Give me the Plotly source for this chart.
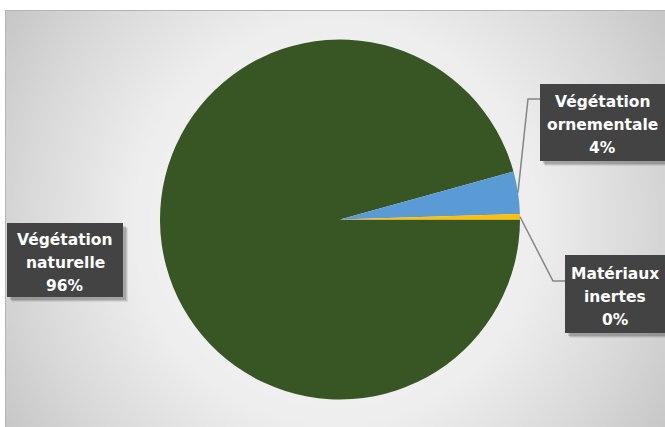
import math
import numpy as np
import plotly.graph_objects as go

# Répartition des surfaces (%)
categories = ["Végétation naturelle", "Végétation ornementale", "Matériaux inertes"]
values = [95.71, 3.80, 0.49]
colors = ["#375623", "#5B9BD5", "#FFC000"]

W, H = 665, 427
CX, CY, R = 340.0, 219.5, 180.0   # pie centre and radius in pixels
ROTATION = 90                     # first slice starts at 3 o'clock, clockwise

fig = go.Figure()

# soft radial background of the chart area
xe = np.linspace(5, W, 67)
ye = np.linspace(10, H, 43)
xc = (xe[:-1] + xe[1:]) / 2
yc = (ye[:-1] + ye[1:]) / 2
gx, gy = np.meshgrid(xc, yc)
dist = np.hypot(gx - 335, gy - 222)
fig.add_trace(go.Heatmap(
    x=xe, y=ye, z=dist, zmin=0, zmax=400, zsmooth="best",
    colorscale=[[0, "#f5f5f5"], [0.5, "#eeeeee"], [0.78, "#d8d8d8"], [1, "#c4c4c4"]],
    showscale=False, hoverinfo="skip",
))

fig.add_trace(go.Pie(
    labels=categories, values=values, sort=False,
    direction="clockwise", rotation=ROTATION,
    marker=dict(colors=colors, line=dict(width=0)),
    textinfo="none", showlegend=False,
    domain=dict(x=[(CX - R) / W, (CX + R) / W],
                y=[(H - CY - R) / H, (H - CY + R) / H]),
))

total = sum(values)
fracs = [v / total for v in values]
pcts = [round(f * 100) for f in fracs]


def edge_point(i):
    """Point on the rim at the middle of slice i."""
    start = sum(fracs[:i])
    theta = math.radians(ROTATION + 360 * (start + fracs[i] / 2))
    return CX + R * math.sin(theta), CY - R * math.cos(theta)


# label boxes: (x0, x1, y0, y1), leader elbow (or None)
boxes = {
    0: ((7, 123, 223, 297), None),
    1: ((540, 668, 84, 161), ((528, 99), (540, 99))),
    2: ((565, 672, 255, 333), ((553, 281), (565, 281))),
}

shapes = []
annotations = []
for i, ((x0, x1, y0, y1), elbow) in boxes.items():
    if elbow is not None:
        px, py = edge_point(i)
        (ex, ey), (bx, by) = elbow
        shapes.append(dict(type="path", xref="x", yref="y", layer="above",
                           path=f"M{px},{py} L{ex},{ey} L{bx},{by}",
                           line=dict(color="#858585", width=1.5)))
    # drop shadow
    for off, op in ((5, 0.08), (4, 0.10), (3, 0.14)):
        shapes.append(dict(type="rect", xref="x", yref="y", layer="above",
                           x0=x0 + off, x1=x1 + off, y0=y0 + off, y1=y1 + off,
                           fillcolor=f"rgba(0,0,0,{op})", line=dict(width=0)))
    shapes.append(dict(type="rect", xref="x", yref="y", layer="above",
                       x0=x0, x1=x1, y0=y0, y1=y1,
                       fillcolor="#434343", line=dict(width=0)))
    lines = categories[i].split(" ") + [f"{pcts[i]}%"]
    xm = (x0 + min(x1, 665)) / 2 if i != 0 else (x0 + x1) / 2
    ym = (y0 + y1) / 2 + 2.5
    for k, t in enumerate(lines):
        annotations.append(dict(
            x=xm, y=ym + (k - 1) * 23, xref="x", yref="y",
            text=f"<b>{t}</b>", showarrow=False,
            xanchor="center", yanchor="middle",
            font=dict(family="DejaVu Sans", size=15.5, color="white"),
        ))

# chart-area border
shapes.append(dict(type="rect", xref="x", yref="y", layer="above",
                   x0=5.5, x1=W + 5, y0=10.5, y1=H + 5,
                   line=dict(color="#b4b4b4", width=1), fillcolor="rgba(0,0,0,0)"))

fig.update_layout(
    width=W, height=H,
    margin=dict(l=0, r=0, t=0, b=0),
    paper_bgcolor="white", plot_bgcolor="white",
    xaxis=dict(range=[0, W], visible=False, fixedrange=True),
    yaxis=dict(range=[H, 0], visible=False, fixedrange=True),
    shapes=shapes, annotations=annotations,
)

fig.write_html("out.html")
